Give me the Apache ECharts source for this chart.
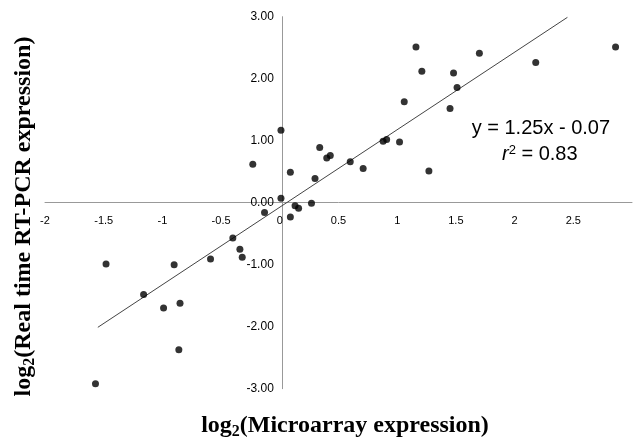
<!DOCTYPE html>
<html><head><meta charset="utf-8">
<script src="https://cdn.jsdelivr.net/npm/echarts/dist/echarts.min.js"></script>
<style>html,body{margin:0;padding:0;background:#fff}#c{width:635px;height:440px}</style>
</head><body><div id="c"></div>
<script>
// log2(Microarray expression)
const microarray = [-1.57, -1.48, -1.16, -0.99, -0.90, -0.86, -0.85, -0.59, -0.40, -0.34, -0.32,
  -0.23, -0.13, 0.01, 0.01, 0.09, 0.09, 0.13, 0.16, 0.27, 0.30, 0.34, 0.40, 0.43, 0.60, 0.71,
  0.88, 0.91, 1.02, 1.06, 1.16, 1.21, 1.27, 1.45, 1.48, 1.51, 1.70, 2.18, 2.86];
// log2(Real time RT-PCR expression)
const rtpcr = [-2.92, -0.99, -1.48, -1.70, -1.00, -2.37, -1.62, -0.91, -0.57, -0.75, -0.88,
  0.62, -0.16, 1.17, 0.07, -0.23, 0.49, -0.05, -0.09, -0.01, 0.39, 0.89, 0.72, 0.76, 0.66, 0.55,
  0.99, 1.02, 0.98, 1.63, 2.51, 2.12, 0.51, 1.52, 2.09, 1.86, 2.41, 2.26, 2.51];
// fitted line endpoints as drawn
const fitX = [-1.55, 2.45];
const fitY = [-2.01, 2.99];
const eqLine1 = 'y = 1.25x - 0.07';
const r2Value = '0.83';
const xTitle = ['log', '2', '(Microarray expression)'];
const yTitle = ['log', '2', '(Real time RT-PCR expression)'];

const GRID = {left: 45, top: 16.7, width: 592, height: 372};
const X_MIN = -2, X_MAX = 3, Y_MIN = -3, Y_MAX = 3;

const chart = echarts.init(document.getElementById('c'), null, {renderer: 'canvas'});
const serif = '"Liberation Serif", "Times New Roman", serif';
const sans = '"Liberation Sans", Arial, sans-serif';
const titleRich = {
  m: {fontFamily: serif, fontSize: 24, fontWeight: 'bold', lineHeight: 27, verticalAlign: 'middle', color: '#000'},
  s: {fontFamily: serif, fontSize: 16, fontWeight: 'bold', lineHeight: 16, verticalAlign: 'bottom', color: '#000'}
};
// move axes so they cross at the origin (whole axis incl. labels)
const yOffset = -GRID.width * (0 - X_MIN) / (X_MAX - X_MIN);
const xOffset = -GRID.height * (0 - Y_MIN) / (Y_MAX - Y_MIN);
chart.setOption({
  animation: false,
  backgroundColor: '#fff',
  grid: Object.assign({containLabel: false}, GRID),
  xAxis: {
    type: 'value', min: X_MIN, max: X_MAX, interval: 0.5, position: 'bottom', offset: xOffset,
    axisLine: {onZero: false, lineStyle: {color: '#999', width: 1}},
    axisTick: {show: false},
    splitLine: {show: false},
    axisLabel: {fontFamily: sans, fontSize: 11, color: '#000', margin: 13,
      formatter: v => (v === 3 ? '' : String(v))}
  },
  yAxis: {
    type: 'value', min: Y_MIN, max: Y_MAX, interval: 1, position: 'left', offset: yOffset,
    axisLine: {onZero: false, lineStyle: {color: '#999', width: 1}},
    axisTick: {show: false},
    splitLine: {show: false},
    axisLabel: {fontFamily: sans, fontSize: 12, color: '#000', margin: 8,
      formatter: v => v.toFixed(2)}
  },
  series: [
    {
      type: 'line', data: fitX.map((x, i) => [x, fitY[i]]),
      symbol: 'none', lineStyle: {color: '#444', width: 1}, z: 1, silent: true
    },
    {
      type: 'scatter', data: microarray.map((x, i) => [x, rtpcr[i]]),
      symbol: 'circle', symbolSize: 7, itemStyle: {color: '#000'}, z: 3
    }
  ],
  graphic: [
    {type: 'text', x: 471.7, y: 128, style: {text: eqLine1, font: '20px ' + sans, fill: '#000', align: 'left', verticalAlign: 'middle'}},
    {type: 'text', x: 502, y: 154.7, style: {
      text: '{i|r}{p|2}{n| = ' + r2Value + '}', align: 'left', verticalAlign: 'middle',
      rich: {
        i: {fontFamily: sans, fontSize: 20, fontStyle: 'italic', lineHeight: 22, verticalAlign: 'middle', color: '#000'},
        p: {fontFamily: sans, fontSize: 13, lineHeight: 13, verticalAlign: 'top', color: '#000'},
        n: {fontFamily: sans, fontSize: 20, lineHeight: 22, verticalAlign: 'middle', color: '#000'}
      }}},
    {type: 'text', x: 345, y: 426, style: {
      text: '{m|' + xTitle[0] + '}{s|' + xTitle[1] + '}{m|' + xTitle[2] + '}',
      align: 'center', verticalAlign: 'middle', rich: titleRich}},
    {type: 'text', x: 24, y: 216.5, rotation: Math.PI / 2, style: {
      text: '{m|' + yTitle[0] + '}{s|' + yTitle[1] + '}{m|' + yTitle[2] + '}',
      align: 'center', verticalAlign: 'middle', rich: titleRich}}
  ]
});
</script></body></html>
